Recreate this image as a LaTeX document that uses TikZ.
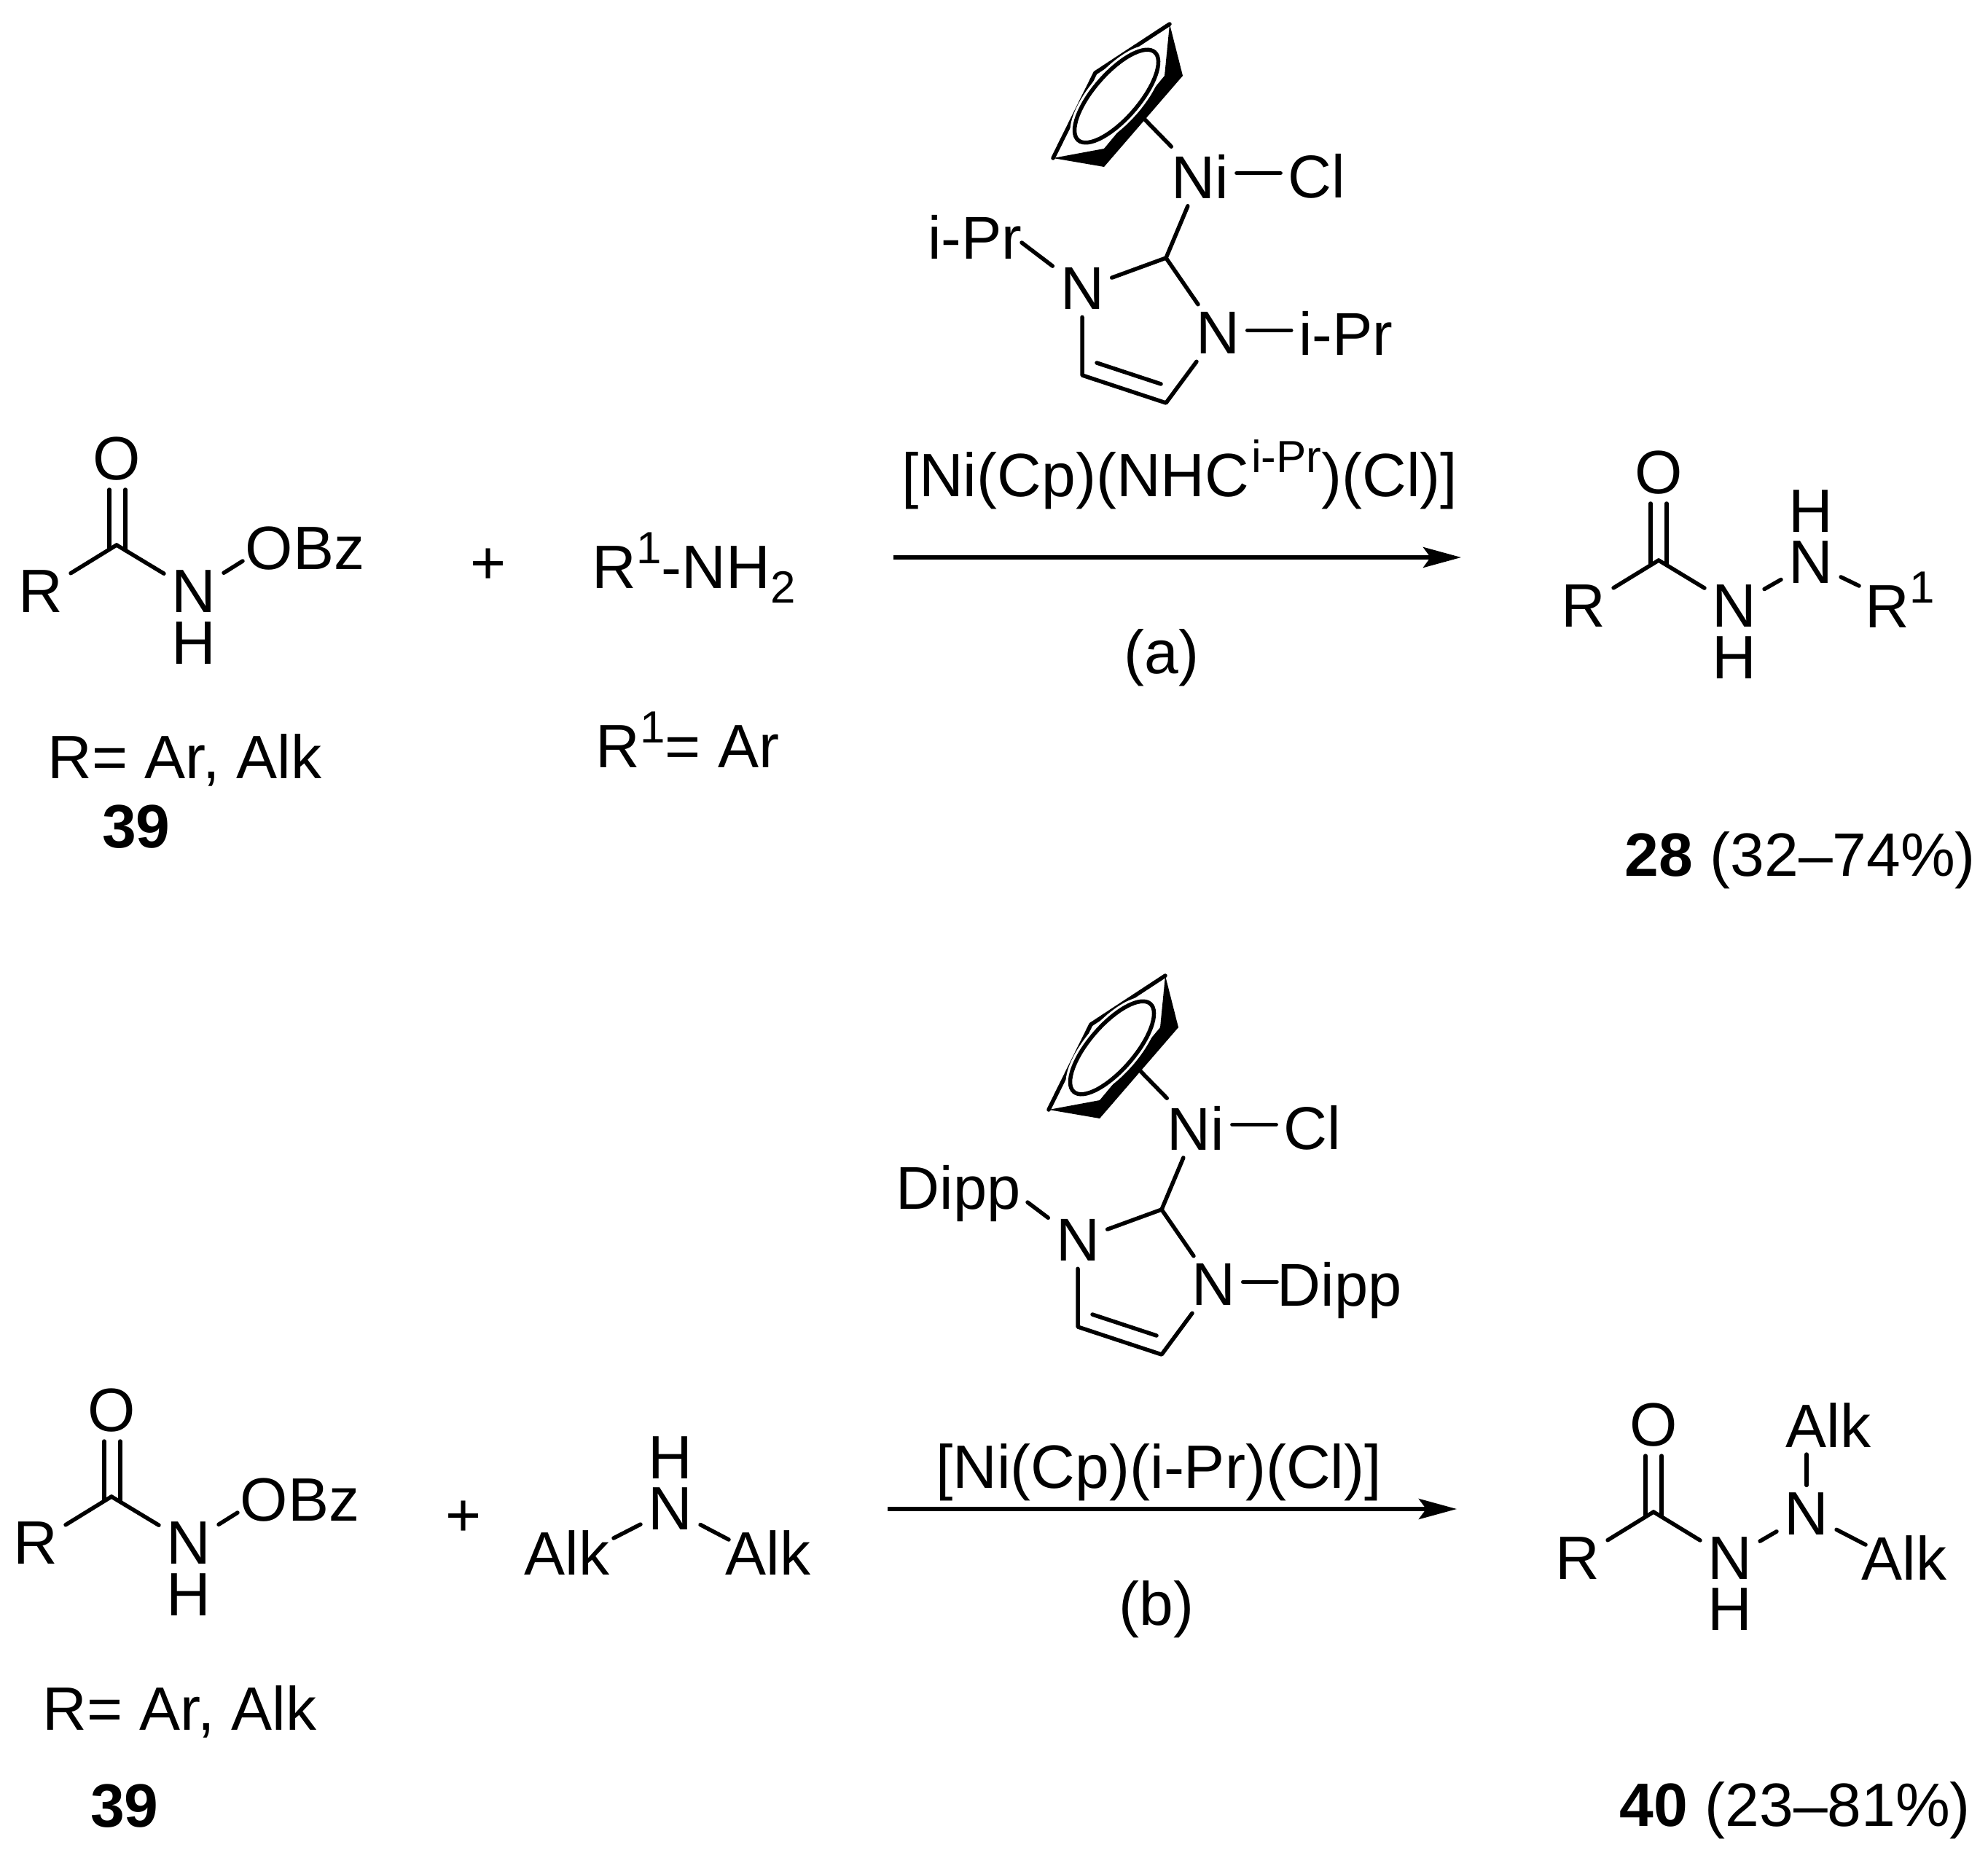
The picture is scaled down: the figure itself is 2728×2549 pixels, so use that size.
\documentclass[tikz,border=0pt]{standalone}
\usepackage{fontspec}
\setmainfont{Liberation Sans}
\usetikzlibrary{arrows.meta,shapes.geometric}
\newcommand{\bigfont}{\fontsize{23.9}{28}\selectfont}
\newcommand{\catfont}{\fontsize{23.6}{28}\selectfont}
\newcommand{\smallfont}{\fontsize{17.6}{21}\selectfont}
\newcommand{\sups}[1]{\raisebox{.4em}{\smallfont #1}}
\newcommand{\subs}[1]{\raisebox{-.24em}{\smallfont #1}}
\tikzset{
  atom/.style={font=\bigfont, inner sep=.1cm},
  catatom/.style={font=\catfont, inner sep=.1cm},
  txt/.style={font=\bigfont, inner sep=0pt, anchor=base west},
  cattxt/.style={font=\catfont, inner sep=0pt, anchor=base west},
  bond/.style={line width=.055cm, line cap=round, line join=round},
  rxn/.style={line width=.055cm, -{Stealth[length=.52cm,width=.28cm,inset=.1cm]}},
  ring/.style={ellipse, draw, line width=.055cm, rotate=49, inner sep=0pt, minimum width=1.6cm, minimum height=.62cm}
}
\begin{document}
\begin{tikzpicture}[x=.01cm,y=-.01cm]
\useasboundingbox (0,0) rectangle (2728,2549);
\fill[white] (0,0) rectangle (2728,2549);

\node[atom] (oa) at (160,630){O};
\coordinate (ca) at (160,748);
\coordinate (cal) at (150,753);
\coordinate (car) at (172,755);
\coordinate (oal) at (150,672);
\coordinate (oar) at (172,672);
\node[atom] (ra) at (56,812){R};
\node[atom] (na) at (266,812){N};
\node[atom] (ha) at (266,883){H};
\node[txt] (obza) at (336,781){OBz};
\coordinate (obzaend) at (333,770);
\draw[bond](oal) -- (cal);
\draw[bond](oar) -- (car);
\draw[bond](ra) -- (ca);
\draw[bond](ca) -- (na);
\draw[bond](na) -- (obzaend);
\node[txt] (rdefa) at (65,1068){R= Ar, Alk};
\node[txt, anchor=base] (numa) at (187,1163){\bfseries 39};
\node[atom] (plusa) at (670,777){+};
\node[txt] (amina) at (812,807){R\sups{1}-NH\subs{2}};
\node[txt] (rdefb) at (817,1053){R\sups{1}= Ar};

\coordinate (cpa1) at (1605,33);
\coordinate (cpa2) at (1623,104);
\coordinate (cpa3) at (1598,104);
\coordinate (cpa4) at (1515,229);
\coordinate (cpa5) at (1515,204);
\coordinate (cpa6) at (1445,217);
\coordinate (cpa7) at (1503,100);
\coordinate (cpaend) at (1570,163);
\fill (cpa1) -- (cpa2) -- (cpa3) -- cycle;
\fill (cpa3) -- (cpa2) -- (cpa4) -- (cpa5) -- cycle;
\fill (cpa6) -- (cpa4) -- (cpa5) -- cycle;
\draw[bond, line join=miter](cpa1) -- (cpa7) -- (cpa6);
\node[ring, draw=white, line width=.12cm] (cphaloa) at (1532,132){};
\node[ring] (cpringa) at (1532,132){};
\node[catatom] (nia) at (1647,242){Ni};
\node[catatom] (cla) at (1807,242){Cl};
\coordinate (cca) at (1600,354);
\node[catatom] (nla) at (1485,396){N};
\node[catatom] (nra) at (1671,457){N};
\node[catatom] (ipra) at (1338,325){i-Pr};
\node[catatom] (iprb) at (1847,457){i-Pr};
\coordinate (iprend) at (1402,333);
\coordinate (rga) at (1485,515);
\coordinate (rgb) at (1600,553);
\coordinate (rgc) at (1505,498);
\coordinate (rgd) at (1593,527);
\draw[bond](cpaend) -- (nia);
\draw[bond](nia.5) -- (cla.west |- nia.5);
\draw[bond](nia) -- (cca);
\draw[bond](cca) -- (nla);
\draw[bond](cca) -- (nra);
\draw[bond](nla) -- (iprend);
\draw[bond](nra.5) -- (iprb.west |- nra.5);
\draw[bond](nla) -- (rga) -- (rgb) -- (nra);
\draw[bond](rgc) -- (rgd);

\node[txt, anchor=base] (conda) at (1619,682){[Ni(Cp)(NHC\kern.03cm\sups{i-Pr})(Cl)]};
\coordinate (arra0) at (1226,765);
\coordinate (arra1) at (2005,765);
\draw[rxn](arra0) -- (arra1);
\node[txt, anchor=base] (laba) at (1594,924){(a)};

\node[atom] (ob) at (2276,649){O};
\coordinate (cb) at (2276,769);
\coordinate (cbl) at (2265,774);
\coordinate (cbr) at (2287,775);
\coordinate (obl) at (2265,691);
\coordinate (obr) at (2287,691);
\node[atom] (rb) at (2173,832){R};
\node[atom] (nb) at (2380,832){N};
\node[atom] (hb) at (2380,903){H};
\node[atom] (nc) at (2485,772){N};
\node[atom] (hc) at (2485,702){H};
\node[txt] (rsup) at (2559,861){R\sups{1}};
\coordinate (rsupend) at (2551,804);
\draw[bond](obl) -- (cbl);
\draw[bond](obr) -- (cbr);
\draw[bond](rb) -- (cb);
\draw[bond](cb) -- (nb);
\draw[bond](nb) -- (nc);
\draw[bond](nc) -- (rsupend);
\node[txt] (numb) at (2229,1202){\textbf{28} (32–74\%)};

\node[atom] (oc) at (153,1936){O};
\coordinate (cc) at (153,2054);
\coordinate (ccl) at (143,2059);
\coordinate (ccr) at (165,2061);
\coordinate (ocl) at (143,1978);
\coordinate (ocr) at (165,1978);
\node[atom] (rc) at (49,2118){R};
\node[atom] (nd) at (259,2118){N};
\node[atom] (hd) at (259,2189){H};
\node[txt] (obzb) at (329,2087){OBz};
\coordinate (obzbend) at (326,2076);
\draw[bond](ocl) -- (ccl);
\draw[bond](ocr) -- (ccr);
\draw[bond](rc) -- (cc);
\draw[bond](cc) -- (nd);
\draw[bond](nd) -- (obzbend);
\node[txt] (rdefc) at (58,2374){R= Ar, Alk};
\node[txt, anchor=base] (numc) at (171,2507){\bfseries 39};
\node[atom] (plusb) at (636,2084){+};
\node[atom] (he) at (920,2001){H};
\node[atom] (ne) at (920,2071){N};
\node[atom] (alka) at (778,2131){Alk};
\node[atom] (alkb) at (1054,2131){Alk};
\coordinate (alkaend) at (842,2111);
\coordinate (alkbend) at (1000,2113);
\draw[bond](ne) -- (alkaend);
\draw[bond](ne) -- (alkbend);

\coordinate (cpb1) at (1599,1339);
\coordinate (cpb2) at (1617,1410);
\coordinate (cpb3) at (1592,1410);
\coordinate (cpb4) at (1509,1535);
\coordinate (cpb5) at (1509,1510);
\coordinate (cpb6) at (1439,1523);
\coordinate (cpb7) at (1497,1406);
\coordinate (cpbend) at (1564,1469);
\fill (cpb1) -- (cpb2) -- (cpb3) -- cycle;
\fill (cpb3) -- (cpb2) -- (cpb4) -- (cpb5) -- cycle;
\fill (cpb6) -- (cpb4) -- (cpb5) -- cycle;
\draw[bond, line join=miter](cpb1) -- (cpb7) -- (cpb6);
\node[ring, draw=white, line width=.12cm] (cphalob) at (1526,1438){};
\node[ring] (cpringb) at (1526,1438){};
\node[catatom] (nib) at (1641,1548){Ni};
\node[catatom] (clb) at (1801,1548){Cl};
\coordinate (ccb) at (1594,1660);
\node[catatom] (nlb) at (1479,1702){N};
\node[catatom] (nrb) at (1665,1763){N};
\node[cattxt] (dippa) at (1229,1659){Dipp};
\node[cattxt] (dippb) at (1752,1792){Dipp};
\coordinate (dippend) at (1410,1650);
\coordinate (rge) at (1479,1821);
\coordinate (rgf) at (1594,1859);
\coordinate (rgg) at (1499,1804);
\coordinate (rgh) at (1587,1833);
\draw[bond](cpbend) -- (nib);
\draw[bond](nib.5) -- (clb.west |- nib.5);
\draw[bond](nib) -- (ccb);
\draw[bond](ccb) -- (nlb);
\draw[bond](ccb) -- (nrb);
\draw[bond](nlb) -- (dippend);
\draw[bond](nrb.5) -- (dippb.west |- nrb.5);
\draw[bond](nlb) -- (rge) -- (rgf) -- (nrb);
\draw[bond](rgg) -- (rgh);

\node[txt, anchor=base] (condb) at (1590,2042){[Ni(Cp)(i-Pr)(Cl)]};
\coordinate (arrb0) at (1218,2071);
\coordinate (arrb1) at (1999,2071);
\draw[rxn](arrb0) -- (arrb1);
\node[txt, anchor=base] (labb) at (1587,2230){(b)};

\node[atom] (of) at (2269,1956){O};
\coordinate (cf) at (2269,2075);
\coordinate (cfl) at (2258,2080);
\coordinate (cfr) at (2280,2081);
\coordinate (ofl) at (2258,1998);
\coordinate (ofr) at (2280,1998);
\node[atom] (rf) at (2165,2139){R};
\node[atom] (nf) at (2374,2139){N};
\node[atom] (hf) at (2374,2209){H};
\node[atom] (ng) at (2479,2078){N};
\node[txt] (alkc) at (2450,1986){Alk};
\node[txt] (alkd) at (2554,2168){Alk};
\coordinate (alkcend) at (2479,1996);
\coordinate (alkdend) at (2560,2120);
\draw[bond](ofl) -- (cfl);
\draw[bond](ofr) -- (cfr);
\draw[bond](rf) -- (cf);
\draw[bond](cf) -- (nf);
\draw[bond](nf) -- (ng);
\draw[bond](ng) -- (alkcend);
\draw[bond](ng) -- (alkdend);
\node[txt] (numd) at (2222,2506){\textbf{40} (23–81\%)};
\end{tikzpicture}
\end{document}
